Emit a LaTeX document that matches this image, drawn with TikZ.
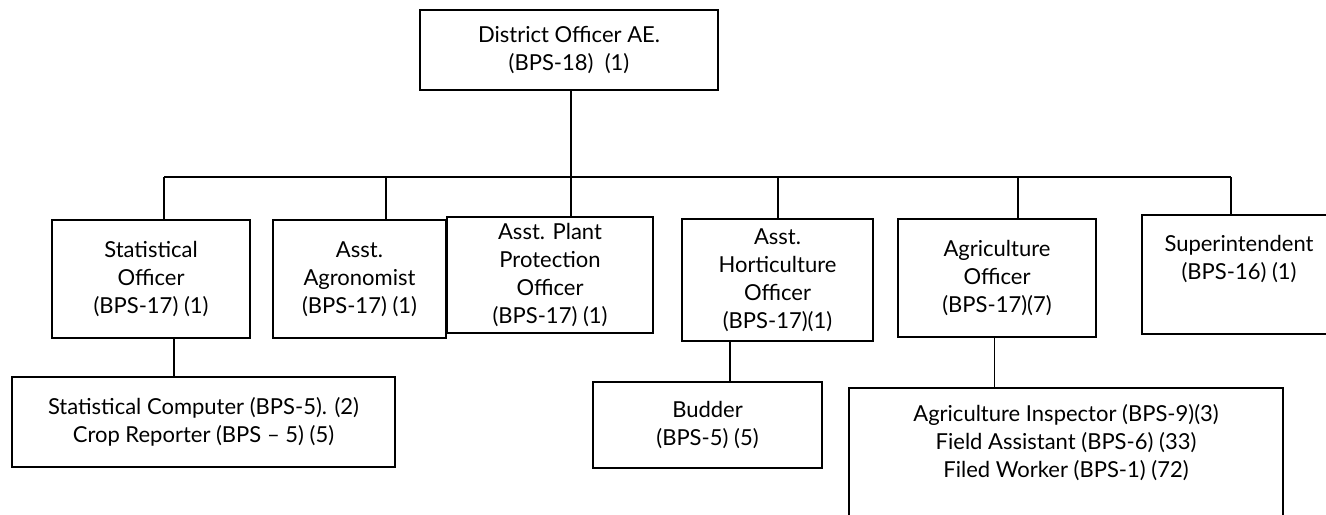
\documentclass[tikz,border=0pt]{standalone}
\usepackage{fontspec}
\setmainfont{Lato}
\begin{document}
\begin{tikzpicture}[x=0.75pt,y=-0.75pt,
  box/.style={draw=black,line width=1.1pt,rectangle,inner sep=0pt,align=center,
    font=\fontsize{16.5}{21}\selectfont},
  lbl/.style={inner sep=0pt,align=center,font=\fontsize{16.5}{21}\selectfont},
  wh/.style 2 args={minimum width=#1*0.75pt,minimum height=#2*0.75pt},
  link/.style={draw=black,line width=1.1pt}]
\useasboundingbox (0,0) rectangle (1326,514);
\clip (0,0) rectangle (1326,514);
\fill[white] (0,0) rectangle (1326,514);

% head of the district
\node[box,wh={298}{80}] (top) at (569,50) {District Officer AE.\\(BPS-18)\ \ (1)};

% second tier
\node[box,wh={198}{118}] (so) at (151,279) {Statistical\\Officer\\(BPS-17) (1)};
\node[box,wh={173}{118}] (ag) at (359.5,279) {Asst.\\Agronomist\\(BPS-17) (1)};
\node[box,wh={206}{116},fill=white] (pp) at (550,275) {Asst. Plant\\Protection\\Officer\\(BPS-17) (1)};
\node[box,wh={191}{122}] (ho) at (777.5,280) {Asst.\\Horticulture\\Officer\\(BPS-17)(1)};
\node[box,wh={198}{118}] (ao) at (997,278) {Agriculture\\Officer\\(BPS-17)(7)};
\node[box,wh={210}{119}] (su) at (1247,274.5) {};
\node[lbl] (sut) at (1239,259.5) {Superintendent\\(BPS-16) (1)};

% third tier
\node[box,wh={383}{90}] (sc) at (203.5,422) {Statistical Computer (BPS-5). (2)\\Crop Reporter (BPS -- 5) (5)};
\node[box,wh={229}{86}] (bu) at (707.5,425) {Budder\\(BPS-5) (5)};
\node[box,wh={434}{150}] (ai) at (1066,463) {};
\node[lbl] (ait) at (1066,443) {Agriculture Inspector (BPS-9)(3)\\Field Assistant (BPS-6) (33)\\Filed Worker (BPS-1) (72)};

% distribution bus
\coordinate (j0) at (571,177);
\coordinate (j1) at (164,177);
\coordinate (j2) at (386,177);
\coordinate (j4) at (778,177);
\coordinate (j5) at (1018,177);
\coordinate (j6) at (1231,177);
\draw[link] (j1) -- (j6);
\draw[link] (top.south -| j0) -- (j0);
\draw[link] (j1) -- (j1 |- so.north);
\draw[link] (j2) -- (j2 |- ag.north);
\draw[link] (j0) -- (j0 |- pp.north);
\draw[link] (j4) -- (j4 |- ho.north);
\draw[link] (j5) -- (j5 |- ao.north);
\draw[link] (j6) -- (j6 |- su.north);

% links to the third tier
\coordinate (k1) at (174,0);
\coordinate (k2) at (730,0);
\coordinate (k3) at (994,0);
\draw[link] (so.south -| k1) -- (sc.north -| k1);
\draw[link] (ho.south -| k2) -- (bu.north -| k2);
\draw[link,line width=0.7pt] (ao.south -| k3) -- (ai.north -| k3);
\end{tikzpicture}
\end{document}
